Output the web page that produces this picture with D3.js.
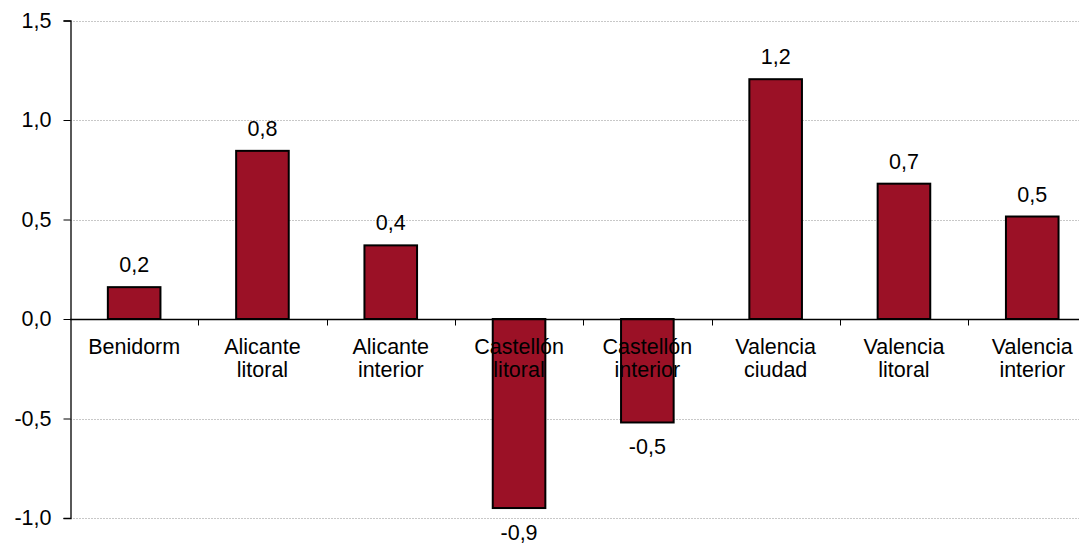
<!DOCTYPE html>
<html><head><meta charset="utf-8">
<script src="https://cdn.jsdelivr.net/npm/d3@7"></script>
<style>body{margin:0;background:#fff;} text{font-family:"Liberation Sans",Arial,sans-serif;}</style>
</head><body><svg id="c" width="1079" height="543"></svg>
<script>
const categories = [["Benidorm"],["Alicante","litoral"],["Alicante","interior"],["Castellón","litoral"],["Castellón","interior"],["Valencia","ciudad"],["Valencia","litoral"],["Valencia","interior"]];
const values = [0.16, 0.845, 0.37, -0.95, -0.52, 1.205, 0.68, 0.515];
const valueLabels = ["0,2","0,8","0,4","-0,9","-0,5","1,2","0,7","0,5"];
const yTicks = [-1.0, -0.5, 0.0, 0.5, 1.0, 1.5];

const FS = 21.5;
const svg = d3.select("#c");
const x0 = 70, bandW = 128.3;
const x = d3.scaleBand().domain(d3.range(categories.length)).range([x0, x0 + bandW*categories.length]).paddingInner(0.59).paddingOuter(0.295);
const y = d3.scaleLinear().domain([-1.0, 1.5]).range([518, 20.5]);

// gridlines
svg.append("g").selectAll("line").data(yTicks.filter(d => d !== 0)).join("line")
  .attr("x1", x0).attr("x2", 1079).attr("y1", d => Math.round(y(d))+0.5).attr("y2", d => Math.round(y(d))+0.5)
  .attr("stroke", "#c8c8c8").attr("stroke-width", 1).attr("stroke-dasharray", "2,1");

// y axis
const yAxis = svg.append("g").attr("transform", `translate(${x0+0.5},0)`)
  .call(d3.axisLeft(y).tickValues(yTicks).tickFormat(d => d3.format(".1f")(d).replace(".", ",").replace("−", "-")).tickSize(7).tickPadding(12));
yAxis.select(".domain").attr("stroke", "#000").attr("stroke-width", 1.3);
yAxis.selectAll(".tick line").attr("stroke", "#000");
yAxis.selectAll(".tick text").attr("font-size", FS).attr("fill", "#000").attr("font-family", "Liberation Sans, Arial, sans-serif");

// bars
svg.append("g").selectAll("rect").data(values).join("rect")
  .attr("x", (d,i) => x(i)).attr("width", x.bandwidth())
  .attr("y", d => y(Math.max(0,d))).attr("height", d => Math.abs(y(d) - y(0)))
  .attr("fill", "#9b1126").attr("stroke", "#000").attr("stroke-width", 2);

// x axis line at 0 and ticks
const y0 = Math.round(y(0)) + 0.5;
svg.append("line").attr("x1", x0).attr("x2", 1079).attr("y1", y0).attr("y2", y0).attr("stroke", "#000").attr("stroke-width", 1.3);
svg.append("g").selectAll("line").data(d3.range(1, categories.length)).join("line")
  .attr("x1", i => Math.round(x0 + i*bandW)+0.5).attr("x2", i => Math.round(x0 + i*bandW)+0.5)
  .attr("y1", y0).attr("y2", y0 + 6).attr("stroke", "#000");

// category labels
const cl = svg.append("g").selectAll("text").data(categories).join("text")
  .attr("x", (d,i) => x(i) + x.bandwidth()/2).attr("y", 354)
  .attr("text-anchor", "middle").attr("font-size", FS).attr("fill", "#000");
cl.selectAll("tspan").data(d => d).join("tspan")
  .attr("x", function(){ return d3.select(this.parentNode).attr("x"); })
  .attr("dy", (d,i) => i === 0 ? 0 : 23).text(d => d);

// value labels
svg.append("g").selectAll("text").data(values).join("text")
  .attr("x", (d,i) => x(i) + x.bandwidth()/2)
  .attr("y", d => d >= 0 ? y(d) - 15 : y(d) + 32)
  .attr("text-anchor", "middle").attr("font-size", FS).attr("fill", "#000")
  .text((d,i) => valueLabels[i]);
</script></body></html>
